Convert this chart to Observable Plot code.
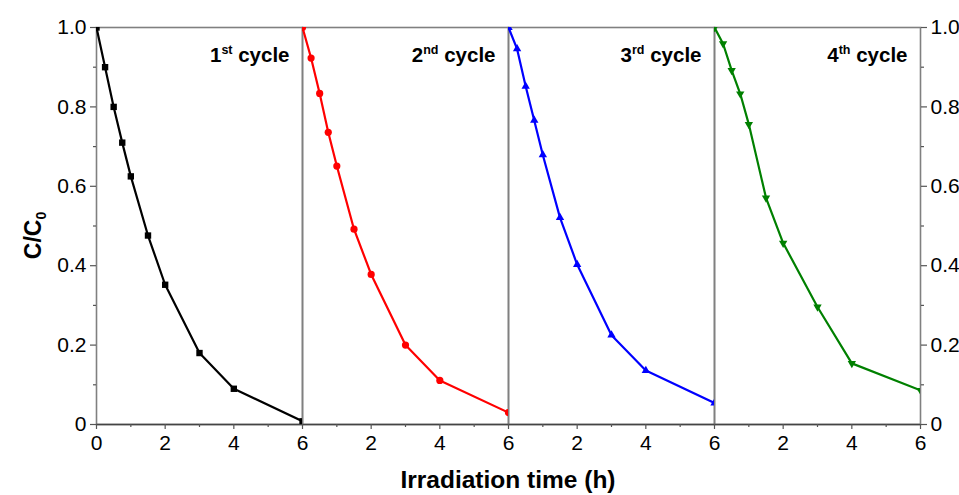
<!DOCTYPE html>
<html><head><meta charset="utf-8">
<script src="https://cdn.jsdelivr.net/npm/d3@7"></script>
<script src="https://cdn.jsdelivr.net/npm/@observablehq/plot@0.6"></script>
<style>body{margin:0;background:#fff} svg{display:block}</style>
</head><body><div id="chart"></div>
<script>
// ---- data ----
const cycles = ["1", "2", "3", "4"];
const cycleOrdinals = ["st", "nd", "rd", "th"];
const times = [0, 0.25, 0.5, 0.75, 1, 1.5, 2, 3, 4, 6];
const cycle1 = [1.0, 0.90, 0.80, 0.71, 0.625, 0.476, 0.352, 0.180, 0.090, 0.008];
const cycle2 = [1.0, 0.923, 0.834, 0.736, 0.651, 0.492, 0.378, 0.200, 0.111, 0.030];
const cycle3 = [1.0, 0.946, 0.852, 0.766, 0.679, 0.521, 0.403, 0.225, 0.136, 0.054];
const cycle4 = [1.0, 0.959, 0.892, 0.833, 0.756, 0.571, 0.457, 0.296, 0.154, 0.086];
const yTicks = [0, 0.2, 0.4, 0.6, 0.8, 1.0];
const yMinor = [0.1, 0.3, 0.5, 0.7, 0.9];
const xTicks = [2, 4, 6];
const xFirstTick = [0];
const xMinor = [1, 3, 5];
const xTitle = "Irradiation time (h)";
const yTitle = ["C/C", "0"];

// ---- styles ----
const colors = ["#000000", "#ff0000", "#0000ff", "#008000"];
const symbols = ["square", "circle", "triangle", "triangle"];
const radii = [3.6, 3.6, 3.1, 3.1];
const rotations = [0, 0, 0, 180];
const W = 959, H = 495, ML = 96, MR = 39, MT = 27, MB = 71;
const FONT = "Liberation Sans, Arial, Helvetica, sans-serif";

const series = [cycle1, cycle2, cycle3, cycle4];
const rows = series.flatMap((vals, i) => vals.map((v, j) => ({cycle: cycles[i], t: times[j], c: v})));
const labelRows = cycles.map((c, i) => ({cycle: c, ord: cycleOrdinals[i]}));
const yFmt = d => d === 0 ? "0" : d.toFixed(1);
const xFmt = d => String(d);
const axisCommon = {label: null, fontSize: 21, stroke: "#555", strokeWidth: 1.2};

const marks = [
  Plot.frame({stroke: "#808080", strokeWidth: 1.6}),
  Plot.ruleY([0], {stroke: "#444", strokeWidth: 1.6}),
  ...cycles.map((c, i) => Plot.line(rows.filter(d => d.cycle === c), {
    x: "t", y: "c", fx: "cycle", stroke: colors[i], strokeWidth: 2.2, clip: true
  })),
  ...cycles.map((c, i) => Plot.dot(rows.filter(d => d.cycle === c), {
    x: "t", y: "c", fx: "cycle", symbol: symbols[i], r: radii[i], fill: colors[i],
    stroke: "none", rotate: rotations[i], clip: true
  })),
  Plot.axisX({...axisCommon, ticks: xTicks, tickSize: 5, tickPadding: 6, tickFormat: xFmt}),
  Plot.axisX({...axisCommon, ticks: xFirstTick, tickSize: 5, tickPadding: 6, tickFormat: xFmt, facetAnchor: "left"}),
  Plot.axisX({...axisCommon, ticks: xMinor, tickSize: 3, tickFormat: () => ""}),
  Plot.axisY({...axisCommon, anchor: "left", ticks: yTicks, tickSize: 6, tickPadding: 4, tickFormat: yFmt}),
  Plot.axisY({...axisCommon, anchor: "left", ticks: yMinor, tickSize: 3, tickFormat: () => ""}),
  Plot.axisY({...axisCommon, anchor: "right", ticks: yTicks, tickSize: 6, tickPadding: 4, tickFormat: yFmt}),
  Plot.axisY({...axisCommon, anchor: "right", ticks: yMinor, tickSize: 3, tickFormat: () => ""}),
  Plot.text(labelRows, {
    fx: "cycle", x: () => 6, y: () => 1, text: d => d.cycle + "|" + d.ord + "| cycle",
    textAnchor: "end", lineAnchor: "bottom", dx: -13, dy: 34,
    fontSize: 20.5, fontWeight: "bold", fill: "#000"
  })
];

const plot = Plot.plot({
  width: W, height: H,
  marginLeft: ML, marginRight: MR, marginTop: MT, marginBottom: MB,
  fx: {padding: 0, axis: null, domain: cycles},
  x: {domain: [0, 6]},
  y: {domain: [0, 1]},
  style: {fontFamily: FONT, color: "#000", background: "#fff"},
  marks
});

// superscripts in cycle labels
const NS = "http://www.w3.org/2000/svg";
plot.querySelectorAll("text").forEach(t => {
  if (!t.textContent.includes("|")) return;
  const [a, b, c] = t.textContent.split("|");
  while (t.firstChild) t.removeChild(t.firstChild);
  const s1 = document.createElementNS(NS, "tspan"); s1.textContent = a; t.appendChild(s1);
  const s2 = document.createElementNS(NS, "tspan"); s2.textContent = b;
  s2.setAttribute("font-size", 12.5); s2.setAttribute("dy", -8); t.appendChild(s2);
  const s3 = document.createElementNS(NS, "tspan"); s3.textContent = c;
  s3.setAttribute("dy", 8); t.appendChild(s3);
});

// axis titles
const svg = d3.select(plot);
const frameCx = ML + (W - ML - MR) / 2;
const frameCy = MT + (H - MT - MB) / 2;
svg.append("text")
  .attr("x", frameCx).attr("y", H - 7)
  .attr("text-anchor", "middle").attr("font-size", 24.5).attr("font-weight", "bold")
  .attr("font-family", FONT).attr("fill", "#000")
  .text(xTitle);
const yt = svg.append("text")
  .attr("transform", `translate(${ML - 55},${frameCy + 10}) rotate(-90)`)
  .attr("text-anchor", "middle").attr("font-size", 23).attr("font-weight", "bold")
  .attr("font-family", FONT).attr("fill", "#000");
yt.append("tspan").text(yTitle[0]);
yt.append("tspan").attr("font-size", 14).attr("dy", 5).text(yTitle[1]);

document.getElementById("chart").appendChild(plot);
</script>
</body></html>
